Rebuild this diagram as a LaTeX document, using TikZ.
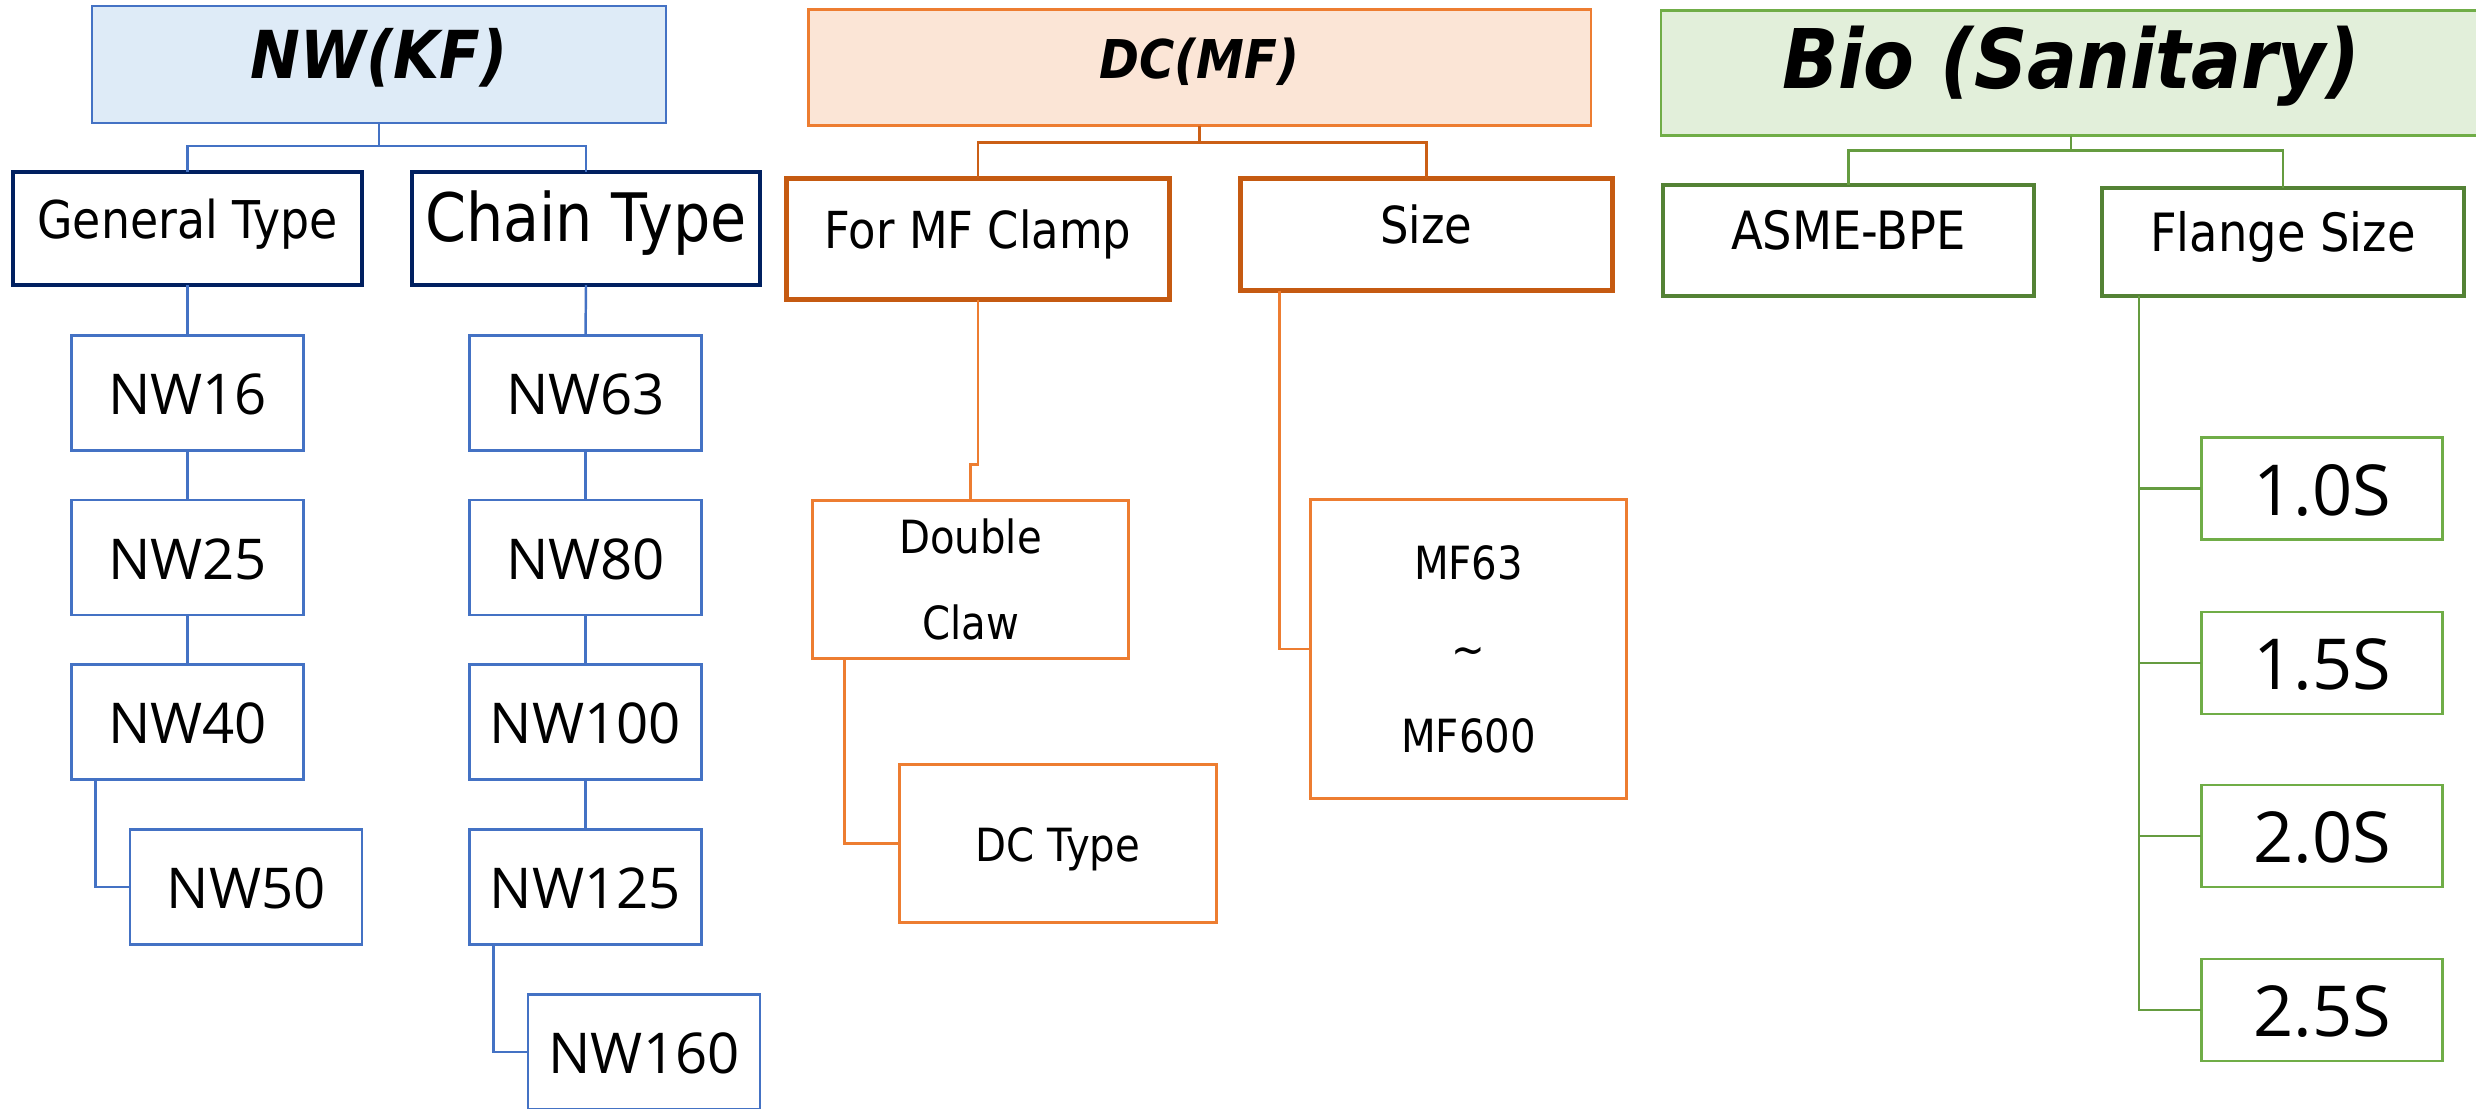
\documentclass[tikz,border=0pt]{standalone}
\usepackage{fontspec}
\setmainfont{Open Sans}
\newfontfamily\condf[FakeStretch=0.88]{DejaVu Sans}
\newfontfamily\titlef[FakeStretch=0.9]{DejaVu Sans Bold Oblique}
\usetikzlibrary{calc}
\definecolor{blueL}{HTML}{4472C4}
\definecolor{blueFill}{HTML}{DEEBF7}
\definecolor{navy}{HTML}{002060}
\definecolor{orangeL}{HTML}{ED7D31}
\definecolor{orangeFill}{HTML}{FBE5D6}
\definecolor{orangeD}{HTML}{C55A11}
\definecolor{greenL}{HTML}{70AD47}
\definecolor{greenFill}{HTML}{E2EFDA}
\definecolor{greenD}{HTML}{548235}
\begin{document}
\begin{tikzpicture}[x=0.01cm,y=-0.01cm,
  box/.style={draw, rectangle, inner sep=0pt, outer sep=0pt, align=center},
  thinline/.style={line width=0.7pt},
  thickline/.style={line width=1.3pt},
  title/.style={box, thinline, text depth=0pt},
  sub/.style={box, thickline, text depth=0pt},
  nwbox/.style={box, thinline, draw=blueL, minimum width=2.32cm, minimum height=1.15cm,
     font=\fontsize{16}{19}\selectfont, text height=0.43cm, text depth=0pt},
  ofbox/.style={box, thinline, draw=orangeL, font=\condf\fontsize{13}{24.6}\selectfont},
  sbox/.style={box, thinline, draw=greenL, minimum width=2.41cm, minimum height=1.02cm,
     font=\fontsize{20}{24}\selectfont, text height=0.53cm, text depth=0pt},
  bconn/.style={thinline, draw=blueL},
  oconn/.style={thinline, draw=orangeL},
  odconn/.style={thinline, draw=orangeD!85!orangeL},
  gconn/.style={thinline, draw=greenL!90!black}
]
\clip (0,0) rectangle (2476,1108);
\fill[white] (0,0) rectangle (2476,1108);

% ---------- NW(KF) ----------
\node[title, draw=blueL, fill=blueFill, minimum width=5.74cm, minimum height=1.17cm,
  font=\titlef\fontsize{18.8}{22}\selectfont, text height=0.27cm] (nwkf) at (379,64.5) {NW(KF)};
\node[sub, draw=navy, minimum width=3.49cm, minimum height=1.13cm,
  font=\condf\fontsize{14.8}{18}\selectfont, text height=0.20cm] (gen) at (187.5,228.5) {General Type};
\node[sub, draw=navy, minimum width=3.48cm, minimum height=1.13cm,
  font=\condf\fontsize{19}{23}\selectfont, text height=0.26cm] (chain) at (586,228.5) {Chain Type};

\node[nwbox] (nw16) at (187.5,393) {NW16};
\node[nwbox] (nw25) at (187.5,557.5) {NW25};
\node[nwbox] (nw40) at (187.5,722) {NW40};
\node[nwbox] (nw50) at (246,887) {NW50};
\node[nwbox] (nw63) at (585.5,393) {NW63};
\node[nwbox] (nw80) at (585.5,557.5) {NW80};
\node[nwbox] (nw100) at (585.5,722) {NW100};
\node[nwbox] (nw125) at (585.5,887) {NW125};
\node[nwbox] (nw160) at (644,1052) {NW160};

\draw[bconn] (nwkf.south) -- ++(0,23) -| (gen.north);
\draw[bconn] (nwkf.south) -- ++(0,23) -| (chain.north);
\draw[bconn] (gen.south) -- (nw16.north);
\draw[bconn] (nw16.south) -- (nw25.north);
\draw[bconn] (nw25.south) -- (nw40.north);
\draw[bconn] ($(nw40.south west)+(24,0)$) |- (nw50.west);
\draw[bconn] (chain.south) -- (nw63.north);
\draw[bconn] (nw63.south) -- (nw80.north);
\draw[bconn] (nw80.south) -- (nw100.north);
\draw[bconn] (nw100.south) -- (nw125.north);
\draw[bconn] ($(nw125.south west)+(24,0)$) |- (nw160.west);

% ---------- DC(MF) ----------
\node[title, draw=orangeL, fill=orangeFill, minimum width=7.82cm, minimum height=1.16cm,
  font=\titlef\fontsize{15.2}{18}\selectfont, text height=0.21cm] (dcmf) at (1199.5,67.5) {DC(MF)};
\node[sub, draw=orangeD, minimum width=3.83cm, minimum height=1.21cm,
  font=\condf\fontsize{14.5}{18}\selectfont, text height=0.19cm] (mfclamp) at (978,239) {For MF Clamp};
\node[sub, draw=orangeD, minimum width=3.72cm, minimum height=1.12cm,
  font=\condf\fontsize{14.5}{18}\selectfont, text height=0.18cm] (size) at (1426.5,234.5) {Size};
\node[ofbox, minimum width=3.16cm, minimum height=1.58cm] (dclaw) at (970.5,579.5) {Double\\Claw};
\node[ofbox, minimum width=3.17cm, minimum height=1.58cm, text height=0.36cm, text depth=0pt] (dctype) at (1058,843.5) {DC Type};
\node[ofbox, minimum width=3.16cm, minimum height=2.99cm] (mfrange) at (1468.5,649) {MF63\\\textasciitilde\\MF600};

\draw[odconn] (dcmf.south) -- ++(0,17) -| (mfclamp.north);
\draw[odconn] (dcmf.south) -- ++(0,17) -| (size.north);
\draw[oconn] (mfclamp.south) -- ++(0,165) -| (dclaw.north);
\draw[oconn] ($(dclaw.south west)+(32,0)$) |- (dctype.west);
\draw[oconn] ($(size.south west)+(39,0)$) |- (mfrange.west);

% ---------- Bio (Sanitary) ----------
\node[title, draw=greenL, fill=greenFill, minimum width=8.20cm, minimum height=1.25cm,
  font=\titlef\fontsize{23.4}{28}\selectfont, text height=0.30cm] (bio) at (2071,73) {Bio (Sanitary)};
\node[sub, draw=greenD, minimum width=3.71cm, minimum height=1.11cm,
  font=\condf\fontsize{15}{18}\selectfont, text height=0.18cm] (asme) at (1848.5,240.5) {ASME-BPE};
\node[sub, draw=greenD, minimum width=3.62cm, minimum height=1.08cm,
  font=\condf\fontsize{15}{18}\selectfont, text height=0.19cm] (flange) at (2283,242) {Flange Size};
\node[sbox] (s10) at (2322,488.5) {1.0S};
\node[sbox] (s15) at (2322,663) {1.5S};
\node[sbox] (s20) at (2322,836) {2.0S};
\node[sbox] (s25) at (2322,1010) {2.5S};

\draw[gconn] (bio.south) -- ++(0,15) -| (asme.north);
\draw[gconn] (bio.south) -- ++(0,15) -| (flange.north);
\draw[gconn] ($(flange.south west)+(37,0)$) |- (s10.west);
\draw[gconn] ($(flange.south west)+(37,0)$) |- (s15.west);
\draw[gconn] ($(flange.south west)+(37,0)$) |- (s20.west);
\draw[gconn] ($(flange.south west)+(37,0)$) |- (s25.west);
\end{tikzpicture}
\end{document}
